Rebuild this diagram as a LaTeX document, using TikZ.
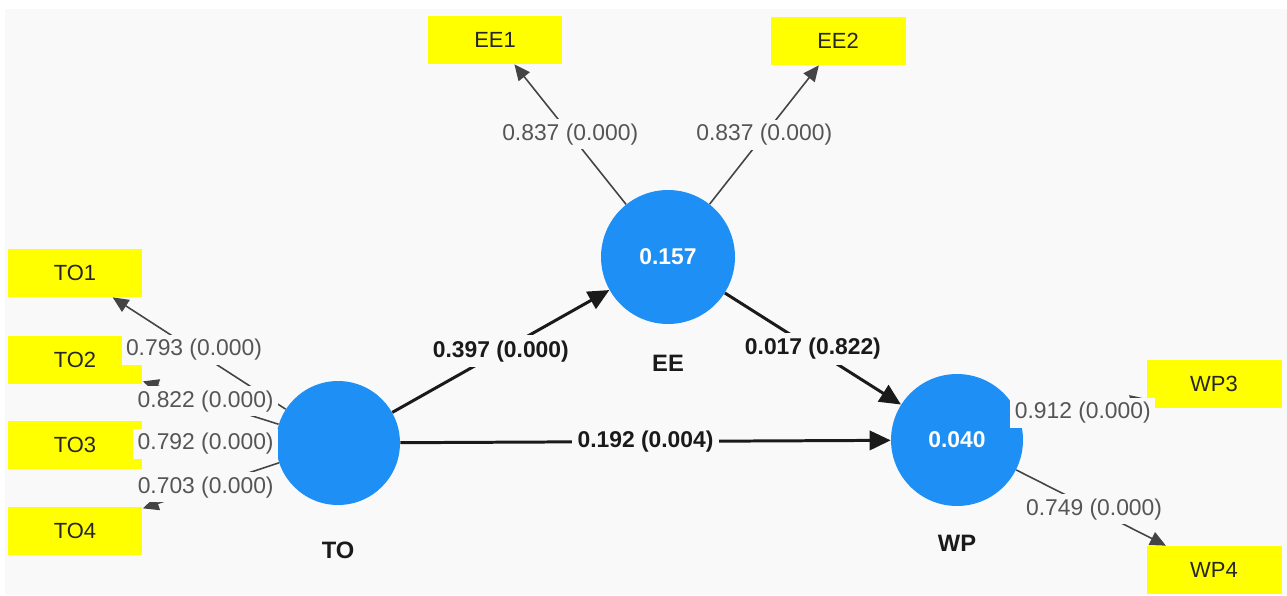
\documentclass[tikz,border=0pt]{standalone}
\usepackage{fontspec}
\setmainfont{Liberation Sans}
\usetikzlibrary{arrows.meta,positioning}
\definecolor{panelgray}{HTML}{F9F9F9}
\definecolor{lvblue}{HTML}{1E8FF5}
\definecolor{itemyellow}{HTML}{FFFF00}
\definecolor{loadgray}{HTML}{555555}
\definecolor{pathblack}{HTML}{1A1A1A}

\begin{document}
\begin{tikzpicture}[
  x=0.02cm, y=-0.02cm,
  latent/.style={circle, fill=lvblue, inner sep=0pt, text=white, font=\fontsize{13}{15}\selectfont\bfseries},
  item/.style={rectangle, fill=itemyellow, minimum width=2.7cm, minimum height=0.96cm, inner sep=0pt, font=\fontsize{12.5}{15}\selectfont, text=black!85},
  lvname/.style={font=\fontsize{13.5}{16}\selectfont\bfseries, text=pathblack},
  loading/.style={-{Triangle[length=9pt,width=8pt]}, draw=loadgray!80!black, line width=0.9pt},
  structural/.style={-{Triangle[length=12pt,width=11pt]}, draw=pathblack, line width=1.7pt},
  loadlbl/.style={fill=panelgray, inner sep=2.5pt, text=loadgray, font=\fontsize{13}{15}\selectfont},
  pathlbl/.style={fill=panelgray, inner sep=3pt, text=pathblack, font=\fontsize{13}{15}\selectfont\bfseries}
]
  \useasboundingbox (0,0) rectangle (1287,595);
  \fill[panelgray] (5,9) rectangle (1287,595);

  % latent variables
  \node[latent, minimum size=2.68cm] (EE) at (668,257) {0.157};
  \node[latent, minimum size=2.48cm] (TO) at (338,443) {};
  \node[latent, minimum size=2.64cm] (WP) at (957,440) {0.040};
  \node[lvname, below=0.5cm of EE] (EEname) {EE};
  \node[lvname, below=0.6cm of TO] (TOname) {TO};
  \node[lvname, below=0.45cm of WP] (WPname) {WP};

  % indicators
  \node[item] (EE1) at (495,40) {EE1};
  \node[item] (EE2) at (838,41) {EE2};
  \node[item] (TO1) at (75,273) {TO1};
  \node[item] (TO2) at (75,360) {TO2};
  \node[item] (TO3) at (75,445) {TO3};
  \node[item] (TO4) at (75,531) {TO4};
  \node[item] (WP3) at (1214,384) {WP3};
  \node[item] (WP4) at (1214,570) {WP4};

  % outer loadings
  \foreach \lv/\ind in {EE/EE1, EE/EE2, TO/TO1, TO/TO2, TO/TO3, TO/TO4, WP/WP3, WP/WP4}
    \draw[loading] (\lv) -- (\ind);

  % path coefficients
  \draw[structural] (TO) -- (EE);
  \draw[structural] (EE) -- (WP);
  \draw[structural] (TO) -- (WP);

  % labels on top
  \foreach \lv/\ind/\p/\val in {EE/EE1/0.5/0.837, EE/EE2/0.5/0.837, TO/TO1/0.53/0.793,
      TO/TO2/0.537/0.822, TO/TO3/0.527/0.792, TO/TO4/0.538/0.703, WP/WP3/0.49/0.912, WP/WP4/0.52/0.749}
    \path (\lv) -- (\ind) node[loadlbl, pos=\p] {\val\ (0.000)};
  \path (TO) -- (EE) node[pathlbl, pos=0.5] {0.397 (0.000)};
  \path (EE) -- (WP) node[pathlbl, pos=0.5] {0.017 (0.822)};
  \path (TO) -- (WP) node[pathlbl, pos=0.5] {0.192 (0.004)};
\end{tikzpicture}
\end{document}
